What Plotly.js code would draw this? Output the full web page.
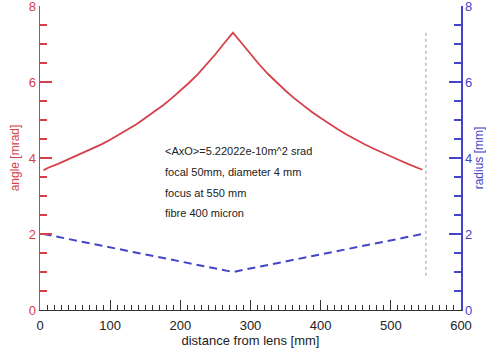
<!DOCTYPE html>
<html>
<head>
<meta charset="utf-8">
<script src="https://cdn.plot.ly/plotly-3.0.1.min.js"></script>
<style>html,body{margin:0;padding:0;background:#fff;}#chart{width:486px;height:352px;}</style>
</head>
<body>
<div id="chart"></div>
<script>
// distance from lens [mm]
const angleX = [5, 12.5, 25, 37.5, 50, 62.5, 75, 87.5, 100, 112.5, 125, 137.5, 150, 162.5, 175, 187.5, 200, 212.5, 225, 237.5, 250, 262.5, 275,
                287.5, 300, 312.5, 325, 337.5, 350, 362.5, 375, 387.5, 400, 412.5, 425, 437.5, 450, 462.5, 475, 487.5, 500, 512.5, 525, 537.5, 545];
// angle [mrad]
const angleY = [3.68, 3.75, 3.84, 3.94, 4.04, 4.14, 4.25, 4.36, 4.48, 4.61, 4.75, 4.89, 5.05, 5.21, 5.38, 5.57, 5.77, 5.98, 6.21, 6.46, 6.73, 7.02, 7.30,
                7.02, 6.73, 6.46, 6.21, 5.98, 5.77, 5.57, 5.38, 5.21, 5.05, 4.89, 4.75, 4.61, 4.48, 4.36, 4.25, 4.14, 4.04, 3.94, 3.84, 3.75, 3.69];
// radius [mm]
const radiusX = [5, 275, 545];
const radiusY = [2.0, 1.0, 2.0];
// fibre position marker
const fibreX = [550, 550];
const fibreY = [0.9, 7.3];
const xTicks = [0, 100, 200, 300, 400, 500, 600];
const yTickStep = 2;
const notes = ["<AxO>=5.22022e-10m^2 srad", "focal 50mm, diameter 4 mm", "focus at 550 mm", "fibre 400 micron"];
const noteX = 175;
const noteY = [4.19, 3.63, 3.08, 2.54];

const RED = '#d6404a';
const BLUE = '#4444c8';
const FONT = 'Liberation Sans, Arial, sans-serif';

const traces = [
  {x: angleX, y: angleY, type: 'scatter', mode: 'lines', line: {color: RED, width: 1.8}, yaxis: 'y', hoverinfo: 'skip'},
  {x: radiusX, y: radiusY, type: 'scatter', mode: 'lines', line: {color: BLUE, width: 2, dash: '8px,5px'}, yaxis: 'y2', hoverinfo: 'skip'},
  {x: fibreX, y: fibreY, type: 'scatter', mode: 'lines', line: {color: '#9a9a9a', width: 1, dash: 'dot'}, yaxis: 'y', hoverinfo: 'skip'}
];

const annotations = notes.map((t, i) => ({
  x: noteX, y: noteY[i], xref: 'x', yref: 'y', text: t.replace(/</g, '&lt;').replace(/>/g, '&gt;'),
  showarrow: false, xanchor: 'left', yanchor: 'middle',
  font: {family: FONT, size: 11, color: '#222'}
}));

function yAxisCfg(color, title, side) {
  return {
    range: [0, 8], tickmode: 'linear', tick0: 0, dtick: yTickStep,
    ticks: 'inside', ticklen: 12, tickwidth: 1.5, tickcolor: color,
    minor: {dtick: 0.5, tick0: 0, ticks: 'inside', ticklen: 7, tickwidth: 1.5, tickcolor: color},
    showline: true, linecolor: color, linewidth: 1.5,
    showgrid: false, zeroline: false,
    ticklabeloverflow: 'allow',
    tickfont: {family: FONT, size: 13, color: color},
    title: {text: title, font: {family: FONT, size: 12, color: color}, standoff: side === 'left' ? 6 : 4}
  };
}

const y2 = yAxisCfg(BLUE, 'radius [mm]', 'right');
y2.overlaying = 'y'; y2.side = 'right'; y2.anchor = 'x';

const layout = {
  width: 486, height: 352,
  margin: {l: 40, r: 25, t: 6, b: 42},
  paper_bgcolor: '#fff', plot_bgcolor: '#fff',
  showlegend: false,
  font: {family: FONT},
  xaxis: {
    range: [0, 600], tickvals: xTicks, ticktext: xTicks.map(String),
    ticks: 'inside', ticklen: 10, tickwidth: 1, tickcolor: '#333',
    minor: {dtick: 10, tick0: 0, ticks: 'inside', ticklen: 5, tickwidth: 1, tickcolor: '#333'},
    showline: true, linecolor: '#333', linewidth: 1.2,
    showgrid: false, zeroline: false,
    ticklabelstandoff: 3,
    ticklabeloverflow: 'allow',
    tickfont: {family: FONT, size: 13, color: '#222'},
    title: {text: 'distance from lens [mm]', font: {family: FONT, size: 13, color: '#222'}, standoff: 0}
  },
  yaxis: yAxisCfg(RED, 'angle [mrad]', 'left'),
  yaxis2: y2,
  annotations: annotations
};

Plotly.newPlot('chart', traces, layout, {staticPlot: true, displayModeBar: false});
</script>
</body>
</html>
